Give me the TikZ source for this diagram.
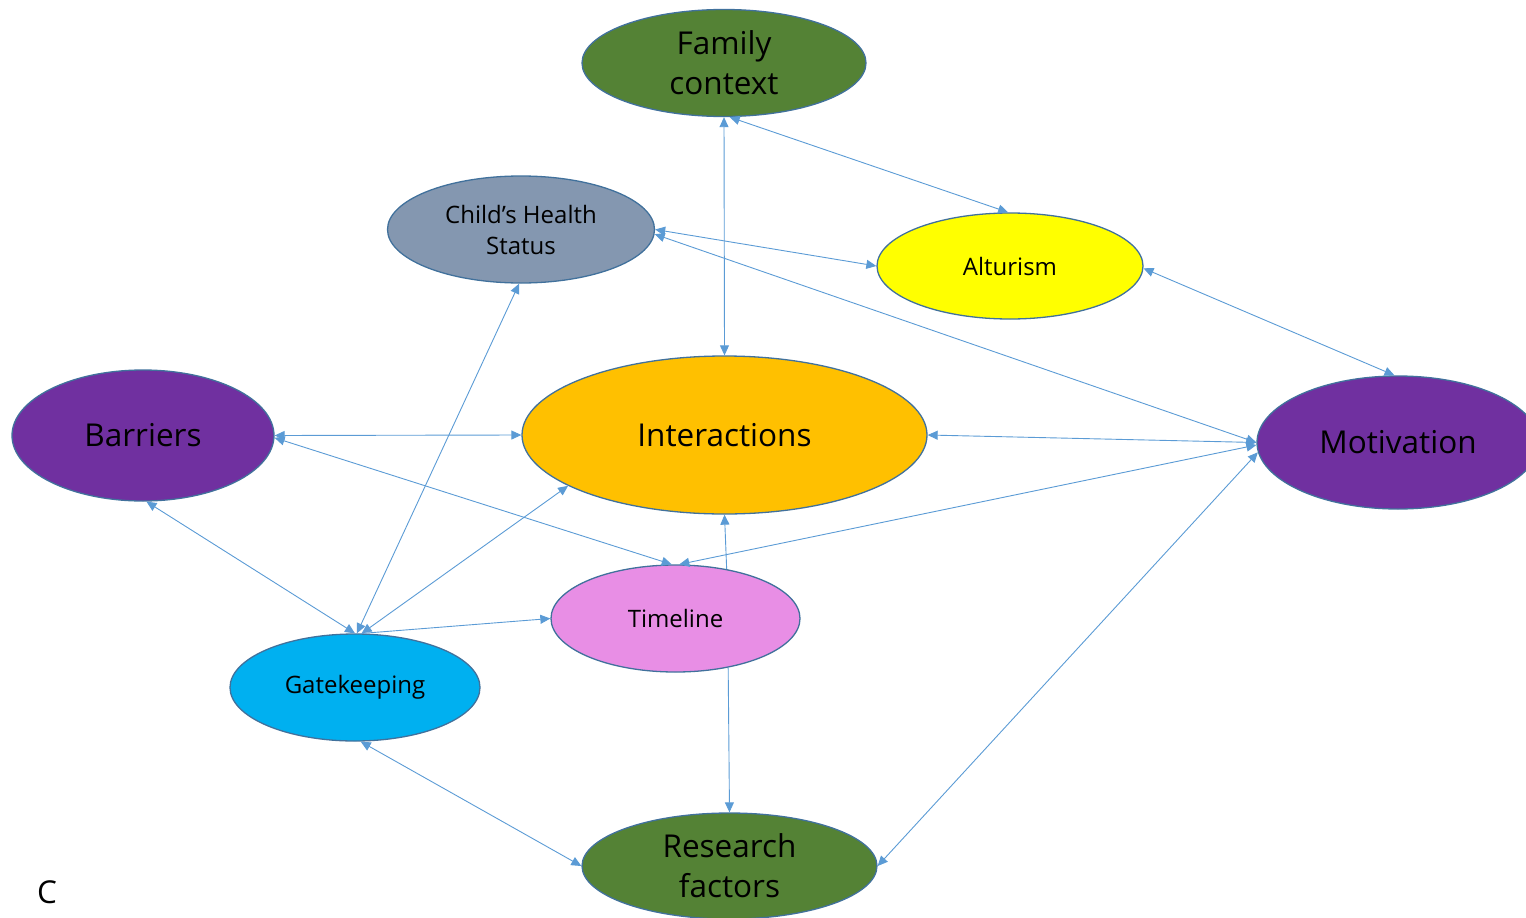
\documentclass[tikz,border=0pt]{standalone}
\usepackage{fontspec}
\setmainfont{Open Sans}
\usetikzlibrary{arrows.meta,shapes.geometric}

\definecolor{edgeblue}{HTML}{5B9BD5}
\definecolor{rimblue}{HTML}{41719C}
\definecolor{leafgreen}{HTML}{548235}
\definecolor{slateblue}{HTML}{8497B0}
\definecolor{sunyellow}{HTML}{FFFF00}
\definecolor{royalpurple}{HTML}{7030A0}
\definecolor{amber}{HTML}{FFC000}
\definecolor{orchid}{HTML}{E88EE5}
\definecolor{skyblue}{HTML}{00B0F0}

\tikzset{
  bubble/.style={ellipse, draw=rimblue, line width=1.3pt, inner sep=0pt,
    align=center, text=black},
  bigtext/.style={font=\fontsize{31.5}{40}\selectfont},
  smalltext/.style={font=\fontsize{24}{31}\selectfont},
  link/.style={draw=edgeblue, line width=0.9pt},
  tip/.tip={Triangle[length=10pt,width=9pt]},
}

\begin{document}
\begin{tikzpicture}[x=1pt,y=-1pt]
\useasboundingbox (0,0) rectangle (1526,918);
\clip (0,0) rectangle (1526,918);

% topics
\node[bubble, bigtext, fill=leafgreen, minimum width=284pt, minimum height=107pt]
  (fam) at (724,63) {Family\\context};
\node[bubble, smalltext, fill=slateblue, minimum width=267pt, minimum height=107pt]
  (chs) at (521,229.5) {Child’s Health\\Status};
\node[bubble, smalltext, fill=sunyellow, minimum width=266pt, minimum height=106pt]
  (alt) at (1010,266) {Alturism};
\node[bubble, bigtext, fill=royalpurple, minimum width=262pt, minimum height=131pt]
  (bar) at (143,435.5) {Barriers};
\node[bubble, bigtext, fill=amber, minimum width=405pt, minimum height=158pt]
  (int) at (724.5,435) {Interactions};
\node[bubble, bigtext, fill=royalpurple, minimum width=282pt, minimum height=133pt]
  (mot) at (1398,442.5) {Motivation};
\node[bubble, smalltext, fill=orchid, minimum width=249pt, minimum height=107pt]
  (tl) at (675.5,618.5) {Timeline};
\node[bubble, smalltext, fill=skyblue, minimum width=250pt, minimum height=107pt]
  (gk) at (355,687.5) {Gatekeeping};
\node[bubble, bigtext, fill=leafgreen, minimum width=295pt, minimum height=106pt]
  (rs) at (729.5,866) {Research\\factors};

\node[bigtext, inner sep=0pt] (lbl) at (47,892) {C};

% connections
\draw[link, {tip}-{tip}] (fam.south) -- (int.north);
\draw[link, {tip}-{tip}] (fam.-84) -- (alt.92);
\draw[link, {tip}-{tip}] (chs.east) -- (alt.west);
\draw[link, {tip}-{tip}] (chs.-2) -- (mot.west);
\draw[link, {tip}-{tip}] (alt.-1) -- (mot.93);
\draw[link, {tip}-{tip}] (bar.east) -- (int.west);
\draw[link, {tip}-{tip}] (int.east) -- (mot.west);
\draw[link, {tip}-{tip}] (mot.181) -- (tl.86);
\draw[link, {tip}-{tip}] (bar.-1) -- (tl.94);
\draw[link, {tip}-{tip}] (bar.-87) -- (gk.north);
\draw[link, {tip}-{tip}] (chs.-92) -- (gk.88);
\draw[link, {tip}-{tip}] (int.198.6) -- (gk.83);
\draw[link, -{tip}] (gk.83) -- (tl.west);
\draw[link, -{tip}] (tl.44) -- (int.south);
\draw[link, -{tip}] (tl.-43) -- (rs.north);
\draw[link, {tip}-{tip}] (gk.-84) -- (rs.west);
\draw[link, {tip}-{tip}] (mot.184) -- (rs.east);
\end{tikzpicture}
\end{document}
